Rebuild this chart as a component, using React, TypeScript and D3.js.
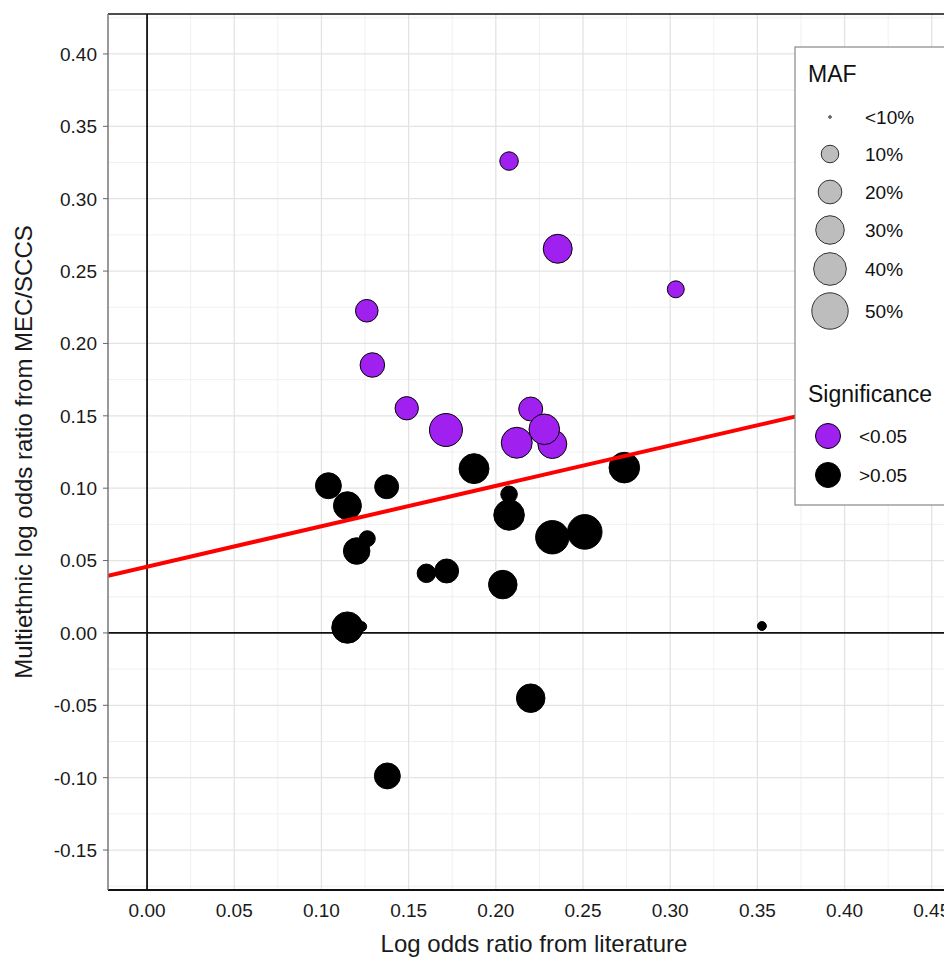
import React from "react";
import * as d3 from "d3";

// ---- data ----
const litLogOR = [
  0.2076, 0.2355, 0.3032, 0.126, 0.1292, 0.1489, 0.1714, 0.22, 0.2324, 0.2278, 0.212,
  0.104, 0.1149, 0.1374, 0.1875, 0.2737, 0.2076, 0.2076, 0.2324, 0.251, 0.1263, 0.1202,
  0.1602, 0.1718, 0.204, 0.1149, 0.1231, 0.22, 0.1378, 0.3526,
];
const mecLogOR = [
  0.326, 0.2654, 0.2374, 0.2226, 0.1851, 0.1552, 0.1402, 0.1547, 0.1305, 0.1407, 0.1314,
  0.1017, 0.0879, 0.101, 0.1135, 0.1142, 0.0958, 0.0815, 0.0661, 0.0698, 0.0651, 0.0566,
  0.0412, 0.0428, 0.0334, 0.0037, 0.0044, -0.0451, -0.0988, 0.0048,
];
const mafPct = [
  11.4, 30.9, 9.2, 18, 21.6, 19.3, 40.7, 20.5, 30.9, 34.7, 35.6,
  24.4, 28.7, 20.5, 33.2, 34.7, 8.7, 34.7, 41.7, 45, 7.9, 25.6,
  11.4, 20.5, 30, 36.6, 1.7, 30, 24.4, 1,
];
const significant = [
  true, true, true, true, true, true, true, true, true, true, true,
  false, false, false, false, false, false, false, false, false, false, false,
  false, false, false, false, false, false, false, false,
];
const fitIntercept = 0.0458;
const fitSlope = 0.279;

const xTicks = [0, 0.05, 0.1, 0.15, 0.2, 0.25, 0.3, 0.35, 0.4, 0.45];
const yTicks = [-0.15, -0.1, -0.05, 0, 0.05, 0.1, 0.15, 0.2, 0.25, 0.3, 0.35, 0.4];
const mafLegendLabels = ["<10%", "10%", "20%", "30%", "40%", "50%"];
const mafLegendValues = [null, 10, 20, 30, 40, 50];
const sigLegendLabels = ["<0.05", ">0.05"];
const sigLegendValues = [true, false];

const xTitle = "Log odds ratio from literature";
const yTitle = "Multiethnic log odds ratio from MEC/SCCS";

const PURPLE = "#A020F0";
const FONT = "'Liberation Sans', Arial, Helvetica, sans-serif";

const fmt = (v: number) => d3.format(".2f")(v).replace("\u2212", "-");

export default function App() {
  const W = 944;
  const H = 960;
  const L = 108, R = 960, T = 14, B = 890;
  const x = d3.scaleLinear().domain([-0.0224, 0.4662]).range([L, R]);
  const y = d3.scaleLinear().domain([-0.1776, 0.4276]).range([B, T]);
  const area = d3.scaleLinear().domain([10, 50]).range([77, 331]);
  const rad = (m: number | null) => (m === null ? 1.3 : Math.sqrt(Math.max(4, area(m))));

  const minorX = d3.range(-0.025, 0.5, 0.05).map((v) => +v.toFixed(3)).filter((v) => x(v) >= L && x(v) <= R);
  const minorY = d3.range(-0.175, 0.45, 0.05).map((v) => +v.toFixed(3)).filter((v) => y(v) >= T && y(v) <= B);

  const pts = litLogOR.map((lx, i) => ({ lx, my: mecLogOR[i], maf: mafPct[i], sig: significant[i] }));

  const line = d3.line<number>().x((v) => x(v)).y((v) => y(fitIntercept + fitSlope * v));
  const xs = [x.invert(L), x.invert(R)];

  const lgX = 795, lgY = 47;
  const mafY = [117, 154, 192, 230, 269, 311];
  const sigY = [436, 475];

  return (
    <svg width={W} height={H} style={{ position: "absolute", left: 0, top: 0, background: "#fff" }} fontFamily={FONT}>
      <defs>
        <clipPath id="panel">
          <rect x={L} y={T} width={R - L} height={B - T} />
        </clipPath>
      </defs>
      <rect x={0} y={0} width={W} height={H} fill="#fff" />
      {/* grid */}
      <g stroke="#ececec" strokeWidth={0.8}>
        {minorX.map((v) => (
          <line key={"mx" + v} x1={x(v)} x2={x(v)} y1={T} y2={B} />
        ))}
        {minorY.map((v) => (
          <line key={"my" + v} x1={L} x2={R} y1={y(v)} y2={y(v)} />
        ))}
      </g>
      <g stroke="#e3e3e3" strokeWidth={1.3}>
        {xTicks.map((v) => (
          <line key={"gx" + v} x1={x(v)} x2={x(v)} y1={T} y2={B} />
        ))}
        {yTicks.map((v) => (
          <line key={"gy" + v} x1={L} x2={R} y1={y(v)} y2={y(v)} />
        ))}
      </g>
      {/* zero lines */}
      <line x1={x(0)} x2={x(0)} y1={T} y2={B} stroke="#111" strokeWidth={1.8} />
      <line x1={L} x2={R} y1={y(0)} y2={y(0)} stroke="#111" strokeWidth={1.8} />
      {/* points */}
      <g clipPath="url(#panel)">
        {pts.map((p, i) => (
          <circle
            key={i}
            cx={x(p.lx)}
            cy={y(p.my)}
            r={rad(p.maf)}
            fill={p.sig ? PURPLE : "#000"}
            stroke="#000"
            strokeWidth={1}
          />
        ))}
        <path d={line(xs) || ""} stroke="#ff0000" strokeWidth={4} fill="none" />
      </g>
      {/* panel border */}
      <line x1={L} x2={R} y1={T} y2={T} stroke="#111" strokeWidth={1.5} />
      <line x1={L} x2={R} y1={B} y2={B} stroke="#111" strokeWidth={2} />
      <line x1={L} x2={L} y1={T} y2={B} stroke="#777" strokeWidth={1.5} />
      {/* y axis ticks */}
      <g>
        {yTicks.map((v) => (
          <g key={"yt" + v}>
            <line x1={L - 5} x2={L} y1={y(v)} y2={y(v)} stroke="#666" strokeWidth={1} />
            <text x={L - 11} y={y(v)} dy="0.36em" textAnchor="end" fontSize={19} fill="#1a1a1a">
              {fmt(v)}
            </text>
          </g>
        ))}
      </g>
      {/* x axis ticks */}
      <g>
        {xTicks.map((v) => (
          <g key={"xt" + v}>
            <text x={x(v)} y={917} textAnchor="middle" fontSize={19} fill="#1a1a1a">
              {fmt(v)}
            </text>
          </g>
        ))}
      </g>
      <text x={534} y={952} textAnchor="middle" fontSize={24} fill="#1a1a1a">
        {xTitle}
      </text>
      <text transform={`translate(32,452) rotate(-90)`} textAnchor="middle" fontSize={24} fill="#1a1a1a">
        {yTitle}
      </text>
      {/* legend */}
      <g>
        <rect x={lgX} y={lgY} width={W - lgX + 10} height={505 - lgY} fill="#fff" stroke="#888" strokeWidth={1.2} />
        <text x={808} y={82} fontSize={23} fill="#111">MAF</text>
        {mafLegendLabels.map((lab, i) => (
          <g key={lab}>
            <circle cx={830} cy={mafY[i]} r={rad(mafLegendValues[i])} fill="#bdbdbd" stroke="#333" strokeWidth={1} />
            <text x={865} y={mafY[i]} dy="0.36em" fontSize={19} fill="#111">{lab}</text>
          </g>
        ))}
        <text x={808} y={402} fontSize={23} fill="#111">Significance</text>
        {sigLegendLabels.map((lab, i) => (
          <g key={lab}>
            <circle cx={828} cy={sigY[i]} r={12.5} fill={sigLegendValues[i] ? PURPLE : "#000"} stroke="#000" strokeWidth={1} />
            <text x={859} y={sigY[i]} dy="0.36em" fontSize={19} fill="#111">{lab}</text>
          </g>
        ))}
      </g>
    </svg>
  );
}
